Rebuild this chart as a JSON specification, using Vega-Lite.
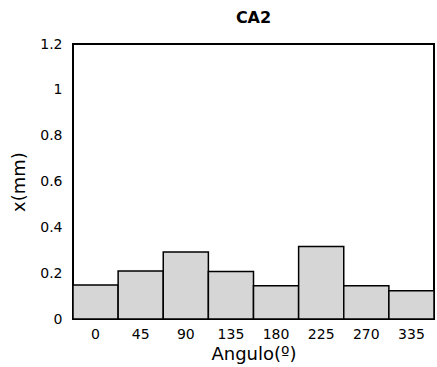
{
  "$schema": "https://vega.github.io/schema/vega-lite/v6.json",
  "autosize": {"type": "none"},
  "width": 361,
  "height": 275,
  "padding": {"left": 73, "top": 44, "right": 3, "bottom": 48},
  "background": "white",
  "title": {"text": "CA2", "font": "DejaVu Sans", "fontSize": 16, "fontWeight": "bold", "color": "black", "offset": 11},
  "data": {"values": [
    {"angulo": "0", "x": 0.148},
    {"angulo": "45", "x": 0.21},
    {"angulo": "90", "x": 0.292},
    {"angulo": "135", "x": 0.207},
    {"angulo": "180", "x": 0.145},
    {"angulo": "225", "x": 0.316},
    {"angulo": "270", "x": 0.145},
    {"angulo": "335", "x": 0.123}
  ]},
  "mark": {"type": "bar", "fill": "#d6d6d6", "stroke": "black", "strokeWidth": 1.5},
  "encoding": {
    "x": {"field": "angulo", "type": "ordinal", "sort": null,
      "scale": {"paddingInner": 0, "paddingOuter": 0},
      "axis": {"title": "Angulo(º)", "labelAngle": 0, "domain": false, "ticks": false, "labelPadding": 8, "titlePadding": 4}},
    "y": {"field": "x", "type": "quantitative",
      "scale": {"domain": [0, 1.2], "nice": false},
      "axis": {"title": "x(mm)", "values": [0, 0.2, 0.4, 0.6, 0.8, 1, 1.2], "format": "~g", "domain": false, "ticks": false, "grid": false, "labelPadding": 11, "titlePadding": 11}}
  },
  "config": {
    "view": {"stroke": "black", "strokeWidth": 2},
    "axis": {"labelFont": "DejaVu Sans", "labelFontSize": 14, "labelColor": "black", "titleFont": "DejaVu Sans", "titleFontSize": 18, "titleFontWeight": "normal", "titleColor": "black", "grid": false}
  }
}
